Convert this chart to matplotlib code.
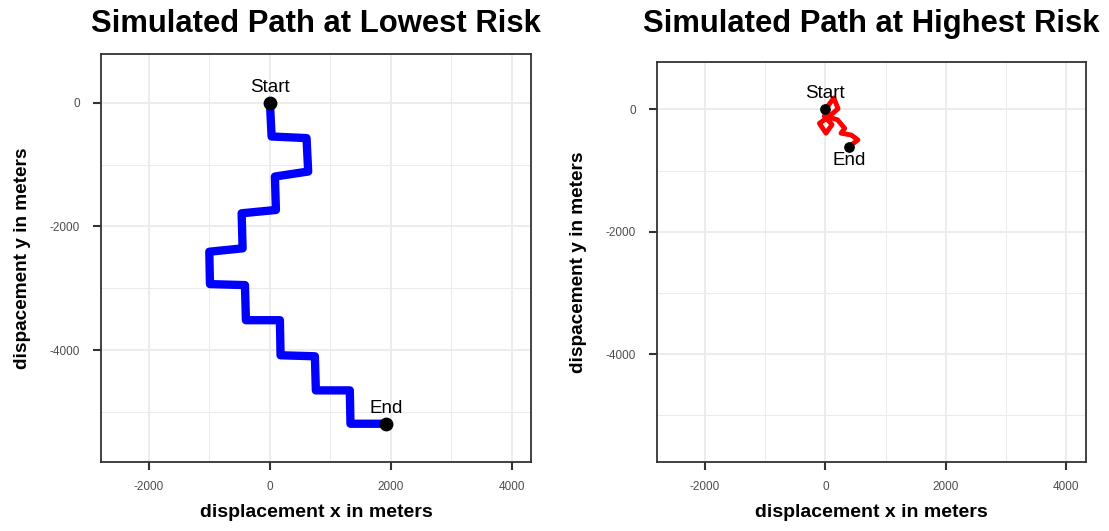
import numpy as np
import matplotlib.pyplot as plt
from matplotlib.ticker import MultipleLocator

plt.rcParams['font.family'] = ['Liberation Sans', 'DejaVu Sans']
plt.rcParams['axes.unicode_minus'] = False

# path at lowest risk (corner points, meters)
low_x = [0, 28, 606, 633, 83, 99, -468, -452, -1003, -992, -413, -397,
         165, 176, 744, 760, 1322, 1333, 1917]
low_y = [0, -546, -572, -1112, -1193, -1733, -1787, -2353, -2408, -2931,
         -2947, -3514, -3514, -4081, -4097, -4648, -4648, -5187, -5187]

# path at highest risk
high_x = [0, 140, 210, 70, -100, 10, 110, -20, 200, 320, 260, 430, 540, 390]
high_y = [0, 185, 10, -110, -230, -390, -250, -110, -170, -310, -390, -420,
          -500, -611]

titles = ['Simulated Path at Lowest Risk', 'Simulated Path at Highest Risk']

fig = plt.figure(figsize=(11.09, 5.31), dpi=100)
W, H = 1109, 531


def panel(x0, x1, y0, y1):
    return fig.add_axes([x0 / W, 1 - y1 / H, (x1 - x0) / W, (y1 - y0) / H])


ax1 = panel(101.3, 531, 54.3, 462.3)
ax2 = panel(657.3, 1085.7, 61.7, 462.3)

for ax, title in zip([ax1, ax2], titles):
    ax.set_xlim(-2790, 4320)
    ax.xaxis.set_major_locator(MultipleLocator(2000))
    ax.xaxis.set_minor_locator(MultipleLocator(1000))
    ax.yaxis.set_major_locator(MultipleLocator(2000))
    ax.yaxis.set_minor_locator(MultipleLocator(1000))
    ax.grid(which='major', color='#EBEBEB', linewidth=1.3)
    ax.grid(which='minor', color='#EBEBEB', linewidth=0.7)
    ax.set_axisbelow(True)
    for s in ax.spines.values():
        s.set_color('#333333')
        s.set_linewidth(1.3)
    ax.tick_params(which='major', length=6, width=1.5, color='#333333',
                   labelsize=8.5, labelcolor='#4D4D4D', pad=7.5)
    ax.tick_params(axis='y', which='major', pad=9.5)
    ax.tick_params(which='minor', length=0)
    ax.set_xlabel('displacement x in meters', fontsize=14, fontweight='bold',
                  labelpad=8)
    ax.set_ylabel('dispacement y in meters', fontsize=13.7, fontweight='bold',
                  labelpad=13)
    bb = ax.get_position()
    fig.text((bb.x0 + bb.x1) / 2, 1 - 32 / H, title, fontsize=22.3,
             fontweight='bold', ha='center', va='baseline')

ax1.set_ylim(-5810, 782)
ax2.set_ylim(-5768, 778)

ax1.plot(low_x, low_y, color='#0000FF', linewidth=6, solid_joinstyle='round',
         solid_capstyle='round', zorder=2)
ax1.scatter([low_x[0], low_x[-1]], [low_y[0], low_y[-1]], s=80, color='black',
            zorder=3)
ax1.annotate('Start', (low_x[0], low_y[0]), xytext=(0, 7.5),
             textcoords='offset points', ha='center', fontsize=13.5)
ax1.annotate('End', (low_x[-1], low_y[-1]), xytext=(0, 7.5),
             textcoords='offset points', ha='center', fontsize=13.5)

ax2.plot(high_x, high_y, color='#FF0000', linewidth=3.5, solid_joinstyle='round',
         solid_capstyle='round', zorder=2)
ax2.scatter([high_x[0], high_x[-1]], [high_y[0], high_y[-1]], s=45,
            color='black', zorder=3)
ax2.annotate('Start', (high_x[0], high_y[0]), xytext=(0, 8),
             textcoords='offset points', ha='center', fontsize=13.5)
ax2.annotate('End', (high_x[-1], high_y[-1]), xytext=(0, -4),
             textcoords='offset points', ha='center', va='top', fontsize=13.5)

fig.savefig('out.png', dpi=100)
